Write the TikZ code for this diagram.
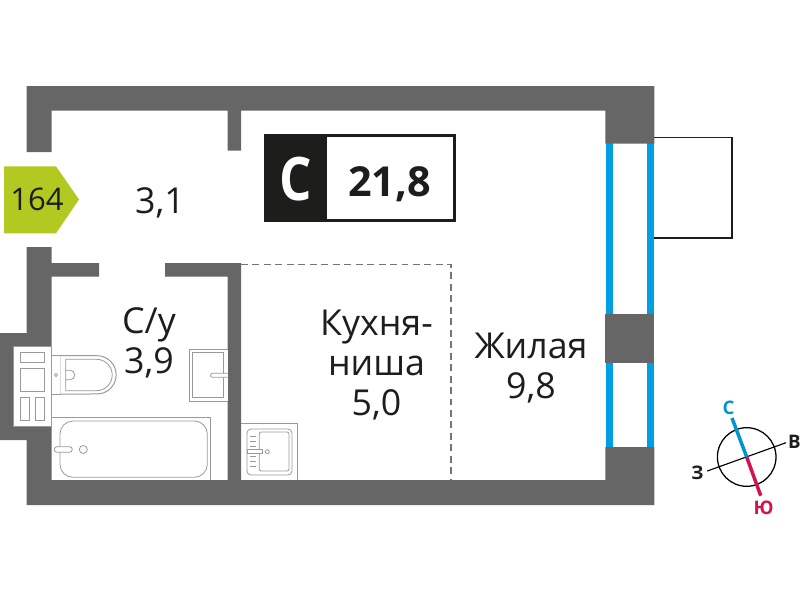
\documentclass[tikz,border=0pt]{standalone}
\usepackage{fontspec}
\setmainfont{Open Sans}
\definecolor{wallc}{HTML}{666666}
\definecolor{inkc}{HTML}{1D1D1B}
\definecolor{glassc}{HTML}{009FE3}
\definecolor{badgec}{HTML}{B1C920}
\definecolor{fixc}{HTML}{9A9A9A}
\definecolor{northc}{HTML}{0095CC}
\definecolor{southc}{HTML}{D5124E}
\tikzset{
  fix/.style={draw=fixc,line width=0.75pt,fill=white},
  fixthin/.style={draw=fixc,line width=0.6pt},
  room/.style={text=inkc,align=center,inner sep=0pt,font=\fontsize{26.8pt}{30pt}\selectfont},
  compasslabel/.style={inner sep=0pt,font=\fontsize{14pt}{15pt}\selectfont\bfseries},
}
\begin{document}
\begin{tikzpicture}[x=0.75pt,y=-0.75pt]
\useasboundingbox (0,0) rectangle (800,600);
% balcony
\draw[inkc,line width=0.95pt] (654,137.5) -- (732,137.5) -- (732,238) -- (654,238);
% glazing
\fill[glassc] (605.7,143) rectangle (612.7,448);
\fill[glassc] (647.3,143) rectangle (654.3,448);
% walls
\fill[wallc] (26.5,86) -- (654.3,86) -- (654.3,143.7) -- (605.3,143.7) -- (605.3,110.5)
  -- (241,110.5) -- (241,150.7) -- (227.5,150.7) -- (227.5,110.5) -- (51.5,110.5)
  -- (51.5,152) -- (26.5,152) -- cycle;
\fill[wallc] (605.3,314.3) rectangle (654.3,363.3);
\fill[wallc] (605.3,447) -- (654.3,447) -- (654.3,505) -- (26.5,505) -- (26.5,440) -- (0,440)
  -- (0,333) -- (26.5,333) -- (26.5,247) -- (51.5,247) -- (51.5,263) -- (99,263) -- (99,276.5)
  -- (51.5,276.5) -- (51.5,480) -- (227.5,480) -- (227.5,276.5) -- (165,276.5) -- (165,263)
  -- (241,263) -- (241,480) -- (605.3,480) -- cycle;
% niche in the bathroom wall
\fill[white,draw=fixc,line width=0.5pt] (13.5,346.7) rectangle (51.5,426);
\draw[fixthin] (20,352.3) rectangle (44.7,362.7);
\draw[fixthin] (20,368.7) rectangle (44.7,391.3);
\draw[fixthin] (20,397.3) rectangle (29.3,420);
\draw[fixthin] (35.5,397.3) rectangle (44.7,420);
% toilet
\draw[fix] (51.5,355.7) rectangle (60.3,394);
\draw[fix] (60.3,355.7) -- (97,355.7) arc[start angle=90,end angle=-90,radius=14.36pt] -- (60.3,394);
\draw[fixthin] (65.7,359.3) -- (96.5,359.3) arc[start angle=90,end angle=-90,radius=11.78pt] -- (65.7,390.7) -- cycle;
\draw[fixthin] (65.7,370.2) -- (70,370.2) arc[start angle=90,end angle=-90,radius=3.6pt] -- (65.7,379.8);
\draw[fixthin] (56,375) circle[radius=1.6];
% wash basin
\draw[fix] (227.5,349) -- (189.3,349) -- (189.3,401) -- (227.5,401);
\draw[fixthin] (192.7,352.3) rectangle (223.3,397.7);
\draw[fixthin,fill=white] (227.5,373.3) -- (212.5,373.3) arc[start angle=90,end angle=270,radius=1.5pt] -- (227.5,377.3);
% bath
\draw[fix] (51.5,417.7) -- (210.7,417.7) -- (210.7,480);
\draw[fixthin,rounded corners=9.75pt] (60,421) rectangle (207.3,477.3);
\draw[fixthin,fill=white] (57.1,446.7) -- (69.5,446.7) arc[start angle=90,end angle=-90,radius=2.1pt] -- (57.1,452.3) arc[start angle=270,end angle=90,radius=2.1pt] -- cycle;
\draw[fixthin] (83.3,449.5) circle[radius=4];
% kitchen sink
\draw[fix] (241,423.7) -- (297.3,423.7) -- (297.3,480);
\draw[fixthin,rounded corners=3pt] (247,429) rectangle (292,475);
\draw[fixthin,rounded corners=1.5pt] (259.3,432) rectangle (289,471);
\foreach \t in {436.7,441.3,446,456.7,461.3,466} \draw[fixthin] (250,\t) -- (255.5,\t);
\draw[fixthin,fill=white] (247,449.7) rectangle (262.7,453.7);
\draw[fixthin] (267.3,451.7) circle[radius=2];
% kitchen niche outline
\draw[wallc!90,line width=1.05pt,dash pattern=on 5.2pt off 3.4pt] (241,264.5) -- (451,264.5) -- (451,480);
% apartment badge
\fill[badgec] (4,166.3) -- (56,166.3) -- (79,199.5) -- (56,233.3) -- (4,233.3) -- cycle;
\node[room,font=\fontsize{23.3pt}{26pt}\selectfont] (flatno) at (37,199) {164};
% type box
\draw[inkc,line width=2.2pt] (265,135.8) rectangle (454.5,220.2);
\fill[inkc] (264,134.3) rectangle (326.7,221.7);
\node[text=white,inner sep=0pt,xscale=0.85,font=\fontsize{45pt}{50pt}\selectfont\bfseries] (typec) at (296,179) {С};
\node[room,font=\fontsize{31pt}{36pt}\selectfont\bfseries] (area) at (389.5,184) {21,8};
% room labels
\node[room] (hall) at (160,203) {3,1};
\node[room] (bath) at (149,342.5) {С/у\\3,9};
\node[room] (kitchen) at (376.5,365) {Кухня-\\ниша\\5,0};
\node[room] (living) at (531,368) {Жилая\\9,8};
% compass
\coordinate (cc) at (746.7,457);
\coordinate (cw) at (707.3,471);
\coordinate (ce) at (786,442.7);
\coordinate (cn) at (732,418);
\coordinate (cs) at (760.7,495.7);
\draw[black,line width=0.95pt] (cc) circle[radius=29.3];
\draw[black,line width=0.85pt] (cw) -- (ce);
\draw[northc,line width=2.6pt] (cc) -- (cn);
\draw[southc,line width=2.6pt] (cc) -- (cs);
\node[compasslabel,text=northc] (ln) at (728.5,407.5) {С};
\node[compasslabel,text=inkc] (le) at (794.5,441.5) {В};
\node[compasslabel,text=inkc] (lw) at (697.3,473) {З};
\node[compasslabel,text=southc] (ls) at (763.7,508) {Ю};
\end{tikzpicture}
\end{document}
